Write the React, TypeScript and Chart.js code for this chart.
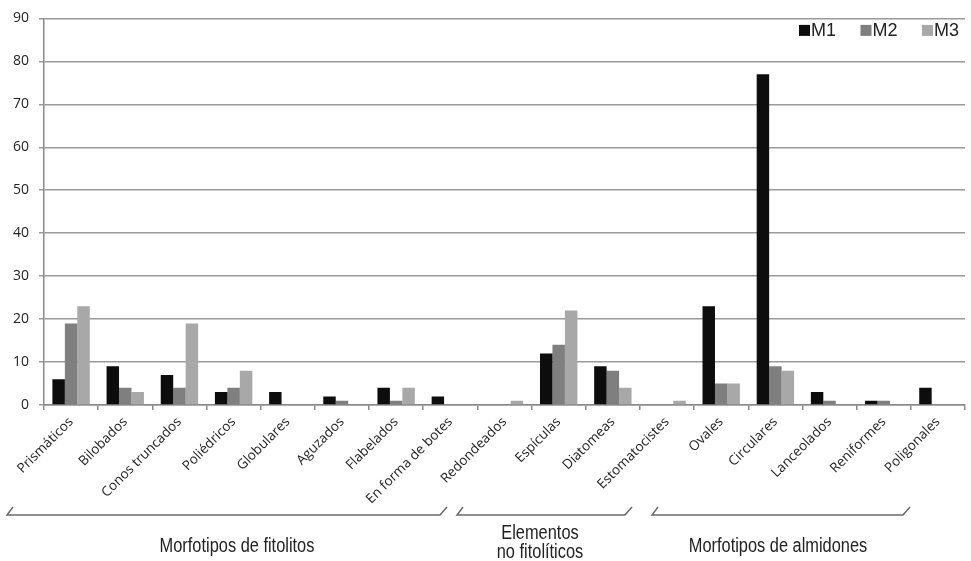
import { useEffect, useRef } from "react";
import { Chart, registerables } from "chart.js";

Chart.register(...registerables);

const categories = [
  "Prismáticos", "Bilobados", "Conos truncados", "Poliédricos", "Globulares",
  "Aguzados", "Flabelados", "En forma de botes", "Redondeados", "Espículas",
  "Diatomeas", "Estomatocistes", "Ovales", "Circulares", "Lanceolados",
  "Reniformes", "Poligonales",
];
const seriesNames = ["M1", "M2", "M3"];
const m1 = [6, 9, 7, 3, 3, 2, 4, 2, 0, 12, 9, 0, 23, 77, 3, 1, 4];
const m2 = [19, 4, 4, 4, 0, 1, 1, 0, 0, 14, 8, 0, 5, 9, 1, 1, 0];
const m3 = [23, 3, 19, 8, 0, 0, 4, 0, 1, 22, 4, 1, 5, 8, 0, 0, 0];
const seriesColors = ["#0d0d0d", "#7f7f7f", "#a8a8a8"];
const yMin = 0;
const yMax = 90;
const yStep = 10;

const groupLabels = [["Morfotipos de fitolitos"], ["Elementos", "no fitolíticos"], ["Morfotipos de almidones"]];
// bracket extents (left, right) and label centre, in page pixels
const groupBrackets = [
  [7, 440, 237],
  [457, 625, 540],
  [652, 903, 778],
];

const annotationPlugin = {
  id: "annotations",
  afterDraw(chart: any) {
    const ctx = chart.ctx;
    const area = chart.chartArea;
    ctx.save();
    // legend
    ctx.font = '18px "Liberation Sans", Arial, sans-serif';
    ctx.textBaseline = "middle";
    const ly = area.top + 12;
    let x = 799;
    seriesNames.forEach((name, i) => {
      ctx.fillStyle = seriesColors[i];
      ctx.fillRect(x, ly - 5.5, 11, 11);
      ctx.fillStyle = "#222";
      ctx.textAlign = "left";
      ctx.fillText(name, x + 12, ly + 1);
      x += 61.5;
    });
    // brackets
    ctx.strokeStyle = "#6a6a6a";
    ctx.lineWidth = 1.5;
    const by = 515;
    groupBrackets.forEach(([x0, x1]) => {
      ctx.beginPath();
      ctx.moveTo(x0 + 6, by - 8);
      ctx.lineTo(x0, by);
      ctx.lineTo(x1, by);
      ctx.lineTo(x1 + 7, by - 8);
      ctx.stroke();
    });
    // group labels (condensed)
    ctx.fillStyle = "#222";
    ctx.textAlign = "center";
    ctx.textBaseline = "alphabetic";
    ctx.font = '19.5px "Liberation Sans", Arial, sans-serif';
    const sx = 0.84;
    groupLabels.forEach((lines, i) => {
      const cx = groupBrackets[i][2];
      ctx.save();
      ctx.translate(cx, 0);
      ctx.scale(sx, 1);
      if (lines.length === 1) {
        ctx.fillText(lines[0], 0, 552);
      } else {
        ctx.fillText(lines[0], 0, 539);
        ctx.fillText(lines[1], 0, 558);
      }
      ctx.restore();
    });
    ctx.restore();
  },
};

export default function App() {
  const ref = useRef<HTMLCanvasElement | null>(null);
  useEffect(() => {
    if (!ref.current) return;
    const chart = new Chart(ref.current, {
      type: "bar",
      data: {
        labels: categories,
        datasets: [m1, m2, m3].map((d, i) => ({
          label: seriesNames[i],
          data: d,
          backgroundColor: seriesColors[i],
          borderWidth: 0,
          barPercentage: 1,
          categoryPercentage: 0.69,
        })),
      },
      options: {
        animation: false,
        responsive: true,
        maintainAspectRatio: false,
        layout: { padding: { top: 18, right: 6, left: 0, bottom: 0 } },
        plugins: { legend: { display: false }, tooltip: { enabled: false } },
        scales: {
          x: {
            grid: { display: true, drawOnChartArea: false, drawTicks: true, tickLength: 5, offset: true, color: "#8a8a8a", lineWidth: 1.5 },
            border: { color: "#8a8a8a", width: 1.5 },
            ticks: {
              autoSkip: false,
              minRotation: 45,
              maxRotation: 45,
              padding: 4,
              color: "#222",
              font: { family: '"Open Sans", sans-serif', size: 13.5 },
            },
            afterFit: (s: any) => { s.height = 156; },
          },
          y: {
            min: yMin,
            max: yMax,
            ticks: { stepSize: yStep, padding: 10, color: "#222", font: { family: '"Open Sans", sans-serif', size: 14 } },
            grid: { color: "#9a9a9a", lineWidth: 1.5, tickLength: 5 },
            border: { color: "#8a8a8a", width: 1.5 },
            afterFit: (s: any) => { s.width = 44; },
          },
        },
      },
      plugins: [annotationPlugin],
    });
    return () => chart.destroy();
  }, []);
  return (
    <div style={{ position: "fixed", left: 0, top: 0, width: 971, height: 561, background: "#fff" }}>
      <canvas ref={ref} />
    </div>
  );
}
